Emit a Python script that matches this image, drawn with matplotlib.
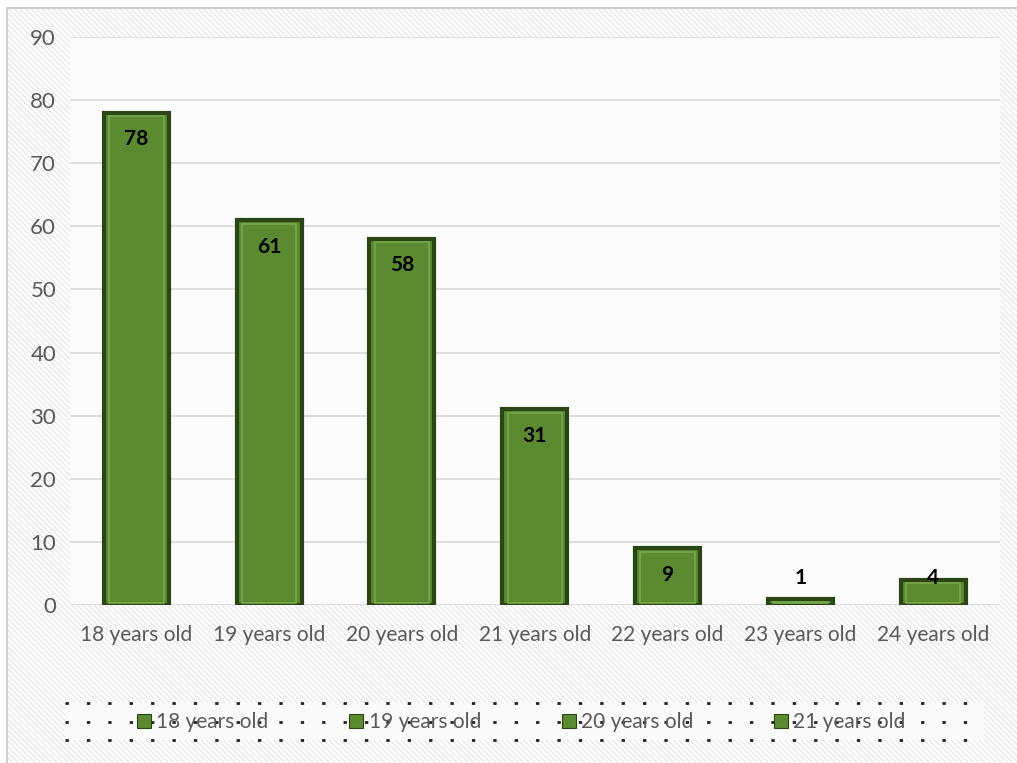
import matplotlib.pyplot as plt
from matplotlib.patches import Rectangle
from matplotlib.lines import Line2D

ages = ['18 years old', '19 years old', '20 years old', '21 years old',
        '22 years old', '23 years old', '24 years old']
counts = [78, 61, 58, 31, 9, 1, 4]
legend_labels = ['18 years old', '19 years old', '20 years old', '21 years old']
y_ticks = [0, 10, 20, 30, 40, 50, 60, 70, 80, 90]

green = '#5b8a31'
dark_green = '#2a4615'
light_green = '#79a84c'
gray_text = '#595959'

plt.rcParams['font.family'] = ['Lato', 'DejaVu Sans']

fig = plt.figure(figsize=(10.17, 7.63), dpi=100)
fig.patch.set_facecolor('white')

# hatched chart area with a thin border
bg = Rectangle((0.007, -0.01), 1.0, 1.0, transform=fig.transFigure,
               facecolor='white', edgecolor='#e6e6e6', hatch='\\\\\\\\\\\\',
               linewidth=0, zorder=-10)
bg.set_hatch_linewidth(0.9)
fig.patches.append(bg)
border = Rectangle((0.007, -0.01), 1.0, 1.0, transform=fig.transFigure,
                   facecolor='none', edgecolor='#d0d0d0', linewidth=1.5, zorder=-9)
fig.patches.append(border)

ax = fig.add_axes([0.0688, 0.207, 0.914, 0.7445])
ax.set_facecolor('#fbfbfb')

x = range(len(ages))
width = 0.49
ax.bar(x, counts, width=width, color=green, edgecolor=dark_green,
       linewidth=3, zorder=3)
# inner bevel
inner_h = [max(c - 0.9, 0) for c in counts]
ax.bar(x, inner_h, width=width - 0.08, bottom=0.35, color='none',
       edgecolor=light_green, linewidth=1.2, zorder=4)

for i, c in enumerate(counts):
    ax.text(i, max(c - 4.2, 4.3), str(c), ha='center', va='center',
            fontsize=15, fontweight='bold', color='black', zorder=5)

ax.set_ylim(0, 90)
ax.set_xlim(-0.5, len(ages) - 0.5)
ax.set_yticks(y_ticks)
ax.set_xticks(list(x))
ax.set_xticklabels(ages)
ax.tick_params(axis='both', length=0, labelsize=15, colors=gray_text)
ax.tick_params(axis='y', labelsize=16, pad=10)
ax.tick_params(axis='x', pad=14)
ax.yaxis.grid(True, color='#d9d9d9', linewidth=1.2, zorder=0)
ax.set_axisbelow(True)
for s in ax.spines.values():
    s.set_visible(False)

# legend with a dotted frame
handles = [Line2D([], [], marker='s', linestyle='none', markersize=10,
                  markerfacecolor=green, markeredgecolor=dark_green,
                  markeredgewidth=0.8) for _ in legend_labels]
leg = fig.legend(handles, legend_labels, loc='center',
                 bbox_to_anchor=(0.510, 0.054), ncol=4, fontsize=15,
                 frameon=False, handletextpad=0.0, handlelength=1.2,
                 columnspacing=3.6)
for t in leg.get_texts():
    t.set_color(gray_text)

for yy in (0.078, 0.054, 0.030):
    fig.add_artist(Line2D([0.064, 0.968], [yy, yy], transform=fig.transFigure,
                          color='#222222', linestyle=(0, (1.2, 6.5)),
                          linewidth=2, zorder=-5))
fig.add_artist(Rectangle((0.064, 0.030), 0.904, 0.048, transform=fig.transFigure,
                         facecolor='#fafafa', edgecolor='none', zorder=-6))

fig.savefig('out.png', dpi=100)
